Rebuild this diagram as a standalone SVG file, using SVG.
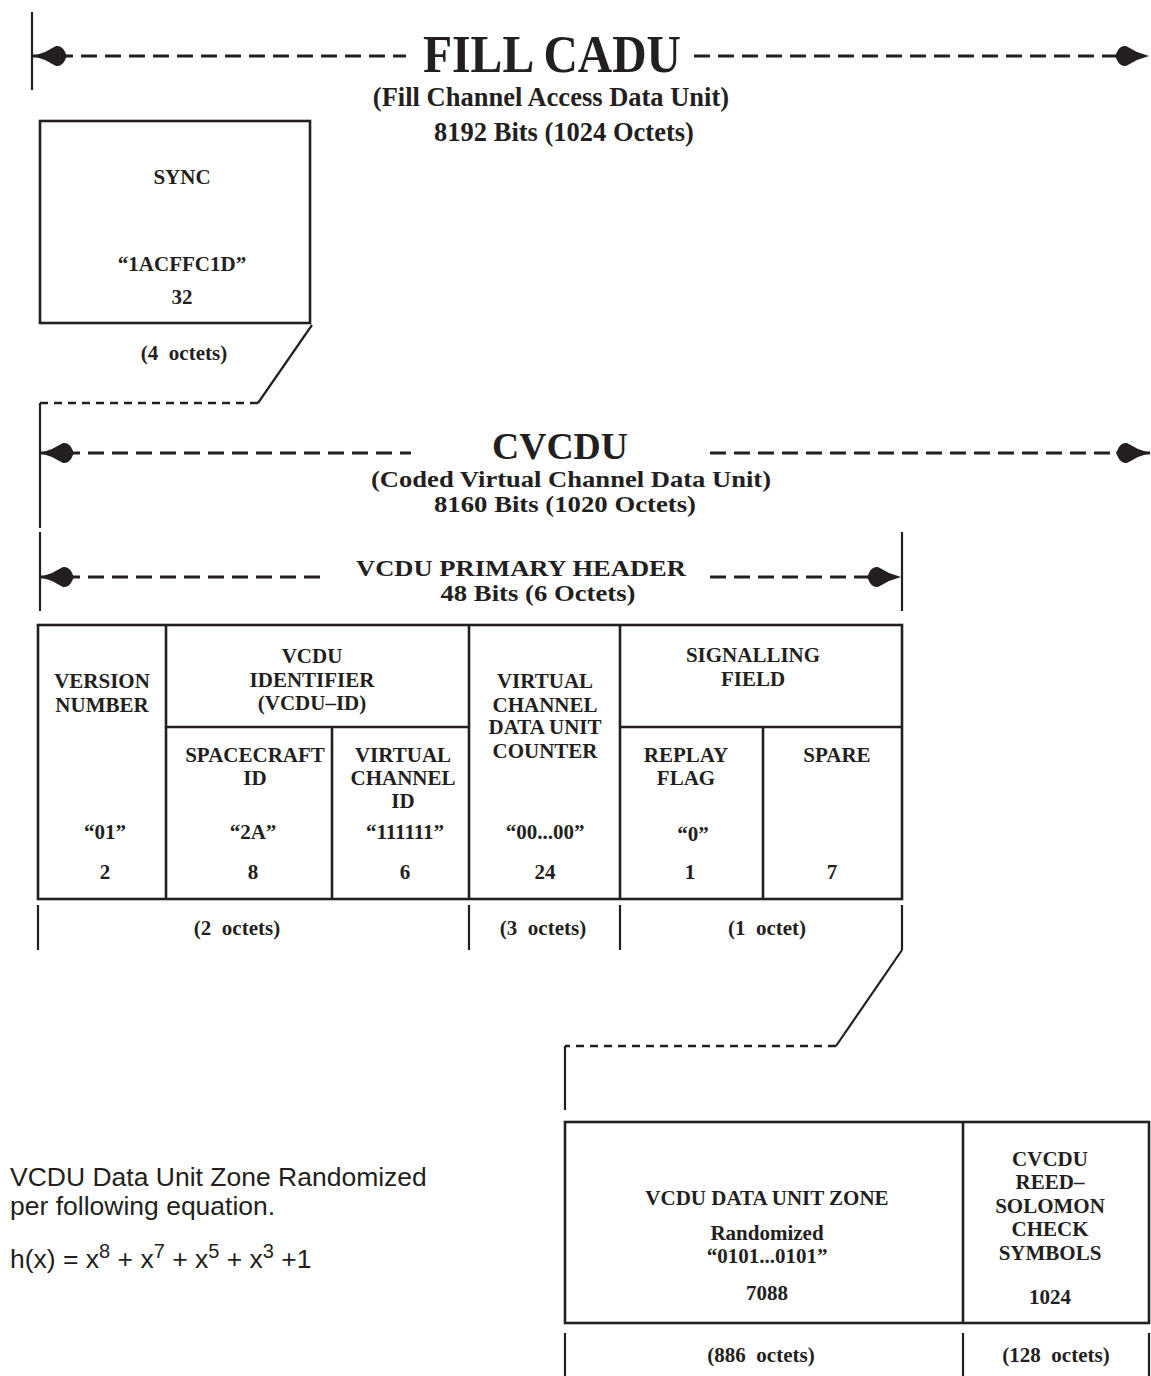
<svg xmlns="http://www.w3.org/2000/svg" width="1151" height="1376" viewBox="0 0 1151 1376">
<style>
.t{font-family:"Liberation Serif","Times New Roman",serif;font-weight:bold;fill:#231f20;text-anchor:middle}
.s21{font-size:21px}
.s26{font-size:26.5px}
.s23{font-size:23px}
.a{font-family:"Liberation Sans",Arial,sans-serif;fill:#231f20;font-size:26.5px}
.sup{font-size:20px}
.ln{stroke:#231f20;stroke-width:2.2;fill:none}
.box{stroke:#231f20;stroke-width:2.6;fill:none}
.dash{stroke:#231f20;stroke-width:3;fill:none;stroke-dasharray:16 8}
.dot{stroke:#231f20;stroke-width:2.5;fill:none;stroke-dasharray:8 6}
</style>
<defs>
<marker id="ah" markerUnits="userSpaceOnUse" markerWidth="40" markerHeight="24" viewBox="-36 -12 40 24" refX="0" refY="0" orient="auto-start-reverse" overflow="visible">
<path d="M0,0 L-12,-4 L-23,-10 Q-28,-10.5 -31,-6 L-34,0 L-31,6 Q-28,10.5 -23,10 L-12,4 Z" fill="#231f20"/>
</marker>
</defs>

<g id="connectors">
<line class="ln" x1="32" y1="12" x2="32" y2="90"/>
<line class="dash" x1="33" y1="56" x2="406" y2="56" marker-start="url(#ah)"/>
<line class="dash" x1="694" y1="56" x2="1149" y2="56" marker-end="url(#ah)"/>
<line class="ln" x1="312" y1="325" x2="258" y2="403"/>
<line class="dot" x1="258" y1="403" x2="40" y2="403"/>
<line class="ln" x1="40" y1="403" x2="40" y2="528"/>
<line class="dash" x1="40" y1="453" x2="411" y2="453" marker-start="url(#ah)"/>
<line class="dash" x1="710" y1="453" x2="1150" y2="453" marker-end="url(#ah)"/>
<line class="ln" x1="40" y1="532" x2="40" y2="611"/>
<line class="ln" x1="902" y1="532" x2="902" y2="611"/>
<line class="dash" x1="40" y1="577" x2="327" y2="577" marker-start="url(#ah)"/>
<line class="dash" x1="710" y1="577" x2="901" y2="577" marker-end="url(#ah)"/>
<line class="ln" x1="38" y1="905" x2="38" y2="950"/>
<line class="ln" x1="469" y1="905" x2="469" y2="950"/>
<line class="ln" x1="620" y1="905" x2="620" y2="950"/>
<line class="ln" x1="902" y1="905" x2="902" y2="950"/>
<line class="ln" x1="902" y1="950" x2="836" y2="1046"/>
<line class="dot" x1="836" y1="1046" x2="565" y2="1046"/>
<line class="ln" x1="565" y1="1046" x2="565" y2="1110"/>
<line class="ln" x1="565" y1="1333" x2="565" y2="1376"/>
<line class="ln" x1="963" y1="1333" x2="963" y2="1376"/>
<line class="ln" x1="1149" y1="1333" x2="1149" y2="1376"/>
</g>

<g id="titles">
<text class="t" x="552" y="72" font-size="53" textLength="258" lengthAdjust="spacingAndGlyphs">FILL CADU</text>
<text class="t s26" x="551" y="106">(Fill Channel Access Data Unit)</text>
<text class="t s26" x="564" y="141">8192 Bits (1024 Octets)</text>
<text class="t" x="560" y="459" font-size="38" textLength="136" lengthAdjust="spacingAndGlyphs">CVCDU</text>
<text class="t s23" x="571" y="487" textLength="400" lengthAdjust="spacingAndGlyphs">(Coded Virtual Channel Data Unit)</text>
<text class="t s23" x="565" y="512" textLength="262" lengthAdjust="spacingAndGlyphs">8160 Bits (1020 Octets)</text>
<text class="t s23" x="521" y="576" textLength="330" lengthAdjust="spacingAndGlyphs">VCDU PRIMARY HEADER</text>
<text class="t s23" x="538" y="601" textLength="195" lengthAdjust="spacingAndGlyphs">48 Bits (6 Octets)</text>
</g>

<g id="sync">
<rect class="box" x="40" y="121" width="270" height="202"/>
<text class="t s21" x="182" y="184">SYNC</text>
<text class="t s21" x="182" y="271">“1ACFFC1D”</text>
<text class="t s21" x="182" y="304">32</text>
<text class="t s21" x="184" y="360" xml:space="preserve">(4  octets)</text>
</g>

<g id="header-table">
<rect class="box" x="38" y="625" width="864" height="274"/>
<line class="box" x1="166" y1="625" x2="166" y2="899"/>
<line class="box" x1="469" y1="625" x2="469" y2="899"/>
<line class="box" x1="620" y1="625" x2="620" y2="899"/>
<line class="box" x1="166" y1="727" x2="469" y2="727"/>
<line class="box" x1="620" y1="727" x2="902" y2="727"/>
<line class="box" x1="332" y1="727" x2="332" y2="899"/>
<line class="box" x1="763" y1="727" x2="763" y2="899"/>
</g>

<g id="version">
<text class="t s21" x="102" y="688">VERSION</text>
<text class="t s21" x="102" y="712">NUMBER</text>
<text class="t s21" x="105" y="839">“01”</text>
<text class="t s21" x="105" y="879">2</text>
</g>
<g id="vcdu-id">
<text class="t s21" x="312" y="663">VCDU</text>
<text class="t s21" x="312" y="687">IDENTIFIER</text>
<text class="t s21" x="312" y="710">(VCDU–ID)</text>
</g>
<g id="spacecraft">
<text class="t s21" x="255" y="762">SPACECRAFT</text>
<text class="t s21" x="255" y="785">ID</text>
<text class="t s21" x="253" y="839">“2A”</text>
<text class="t s21" x="253" y="879">8</text>
</g>
<g id="vc-id">
<text class="t s21" x="403" y="762">VIRTUAL</text>
<text class="t s21" x="403" y="785">CHANNEL</text>
<text class="t s21" x="403" y="808">ID</text>
<text class="t s21" x="405" y="839">“111111”</text>
<text class="t s21" x="405" y="879">6</text>
</g>
<g id="counter">
<text class="t s21" x="545" y="688">VIRTUAL</text>
<text class="t s21" x="545" y="712">CHANNEL</text>
<text class="t s21" x="545" y="734">DATA UNIT</text>
<text class="t s21" x="545" y="758">COUNTER</text>
<text class="t s21" x="545" y="839">“00...00”</text>
<text class="t s21" x="545" y="879">24</text>
</g>
<g id="signalling">
<text class="t s21" x="753" y="662">SIGNALLING</text>
<text class="t s21" x="753" y="686">FIELD</text>
</g>
<g id="replay">
<text class="t s21" x="686" y="762">REPLAY</text>
<text class="t s21" x="686" y="785">FLAG</text>
<text class="t s21" x="693" y="841">“0”</text>
<text class="t s21" x="690" y="879">1</text>
</g>
<g id="spare">
<text class="t s21" x="837" y="762">SPARE</text>
<text class="t s21" x="832" y="879">7</text>
</g>
<g id="octet-labels">
<text class="t s21" x="237" y="935" xml:space="preserve">(2  octets)</text>
<text class="t s21" x="543" y="935" xml:space="preserve">(3  octets)</text>
<text class="t s21" x="767" y="935" xml:space="preserve">(1  octet)</text>
</g>

<g id="data-zone">
<rect class="box" x="565" y="1122" width="584" height="201"/>
<line class="box" x1="963" y1="1122" x2="963" y2="1323"/>
<text class="t s21" x="767" y="1205">VCDU DATA UNIT ZONE</text>
<text class="t s21" x="767" y="1240">Randomized</text>
<text class="t s21" x="767" y="1263">“0101...0101”</text>
<text class="t s21" x="767" y="1300">7088</text>
<text class="t s21" x="761" y="1362" xml:space="preserve">(886  octets)</text>
</g>
<g id="rs-check">
<text class="t s21" x="1050" y="1166">CVCDU</text>
<text class="t s21" x="1050" y="1189">REED–</text>
<text class="t s21" x="1050" y="1213">SOLOMON</text>
<text class="t s21" x="1050" y="1236">CHECK</text>
<text class="t s21" x="1050" y="1260">SYMBOLS</text>
<text class="t s21" x="1050" y="1304">1024</text>
<text class="t s21" x="1056" y="1362" xml:space="preserve">(128  octets)</text>
</g>

<g id="note">
<text class="a" x="10" y="1186">VCDU Data Unit Zone Randomized</text>
<text class="a" x="10" y="1215">per following equation.</text>
<text class="a" x="10" y="1268">h(x) = x<tspan class="sup" dy="-10">8</tspan><tspan dy="10"> + x</tspan><tspan class="sup" dy="-10">7</tspan><tspan dy="10"> + x</tspan><tspan class="sup" dy="-10">5</tspan><tspan dy="10"> + x</tspan><tspan class="sup" dy="-10">3</tspan><tspan dy="10"> +1</tspan></text>
</g>
</svg>
